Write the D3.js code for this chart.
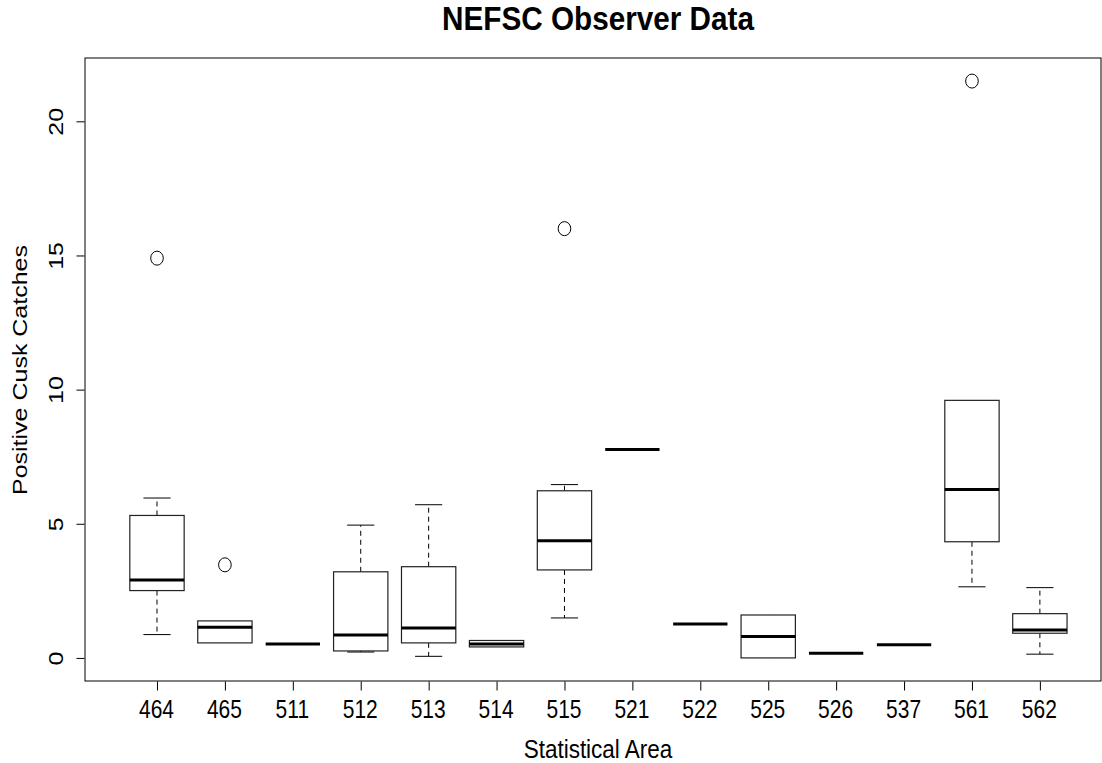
<!DOCTYPE html>
<html>
<head>
<meta charset="utf-8">
<script src="https://cdn.jsdelivr.net/npm/d3@7"></script>
<style>
  body { margin: 0; background: #fff; }
  text { font-family: "Liberation Sans", Arial, sans-serif; fill: #000; }
</style>
</head>
<body>
<script>
"use strict";

// Box statistics

const areas = ["464", "465", "511", "512", "513", "514", "515", "521", "522", "525", "526", "537", "561", "562"];
const whiskerLow = [0.87, 0.56, 0.52, 0.22, 0.06, 0.41, 1.49, 7.77, 1.26, 0.0, 0.17, 0.49, 2.65, 0.14];
const q1 = [2.51, 0.56, 0.52, 0.26, 0.56, 0.41, 3.28, 7.77, 1.26, 0.0, 0.17, 0.49, 4.33, 0.92];
const medians = [2.90, 1.14, 0.52, 0.85, 1.12, 0.52, 4.37, 7.77, 1.26, 0.80, 0.17, 0.49, 6.28, 1.04];
const q3 = [5.31, 1.38, 0.52, 3.21, 3.40, 0.65, 6.23, 7.77, 1.26, 1.60, 0.17, 0.49, 9.60, 1.65];
const whiskerHigh = [5.96, 1.38, 0.52, 4.95, 5.71, 0.65, 6.46, 7.77, 1.26, 1.60, 0.17, 0.49, 9.60, 2.62];
const outliers = [[14.9], [3.47], [], [], [], [], [16.0], [], [], [], [], [], [21.5], []];
const yTicks = [0, 5, 10, 15, 20];

// Layout

const width = 1102;
const height = 763;
const plotLeft = 85;
const plotRight = 1101;
const plotTop = 58;
const plotBottom = 681;
const boxWidth = 0.8;
const squeeze = 0.84;   // text in the picture is narrowed horizontally

const boxes = areas.map((a, i) => ({
    area: a, i,
    lo: whiskerLow[i], q1: q1[i], med: medians[i], q3: q3[i], hi: whiskerHigh[i],
    out: outliers[i]
}));

const svg = d3.select("body").append("svg")
    .attr("width", width)
    .attr("height", height);

const x = d3.scaleLinear().domain([-0.06, 14.9]).range([plotLeft, plotRight]);
const y = d3.scaleLinear().domain([-0.86, 22.36]).range([plotBottom, plotTop]);
const step = x(1) - x(0);

// Frame
svg.append("rect")
    .attr("x", plotLeft).attr("y", plotTop)
    .attr("width", plotRight - plotLeft).attr("height", plotBottom - plotTop)
    .attr("fill", "none").attr("stroke", "#000").attr("stroke-width", 1);

// Axes
const xAxis = d3.axisBottom(x)
    .tickValues(d3.range(1, areas.length + 1))
    .tickFormat(d => areas[d - 1])
    .tickSize(9);

const gx = svg.append("g")
    .attr("transform", `translate(0,${plotBottom + 0.5})`)
    .call(xAxis);
gx.select(".domain").remove();
gx.selectAll("text")
    .attr("font-size", 25)
    .attr("font-family", "Liberation Sans, Arial, sans-serif")
    .attr("y", null).attr("dy", null)
    .attr("transform", `translate(-1,36.5) scale(${squeeze},1)`);

const yAxis = d3.axisLeft(y).tickValues(yTicks).tickSize(8);
const gy = svg.append("g")
    .attr("transform", `translate(${plotLeft - 0.5},0)`)
    .call(yAxis);
gy.select(".domain").remove();
gy.selectAll("text")
    .attr("font-size", 25)
    .attr("font-family", "Liberation Sans, Arial, sans-serif")
    .attr("text-anchor", "middle")
    .attr("x", null).attr("dy", null)
    .attr("transform", `translate(-21.5,0) scale(${squeeze},1) rotate(-90)`);

// Boxes
const g = svg.append("g")
    .selectAll("g")
    .data(boxes)
    .join("g");

const half = step * boxWidth / 2;
const cap = half / 2;

// whiskers
g.append("line")
    .attr("x1", d => x(d.i + 1)).attr("x2", d => x(d.i + 1))
    .attr("y1", d => y(d.q3)).attr("y2", d => y(d.hi))
    .attr("stroke", "#000").attr("stroke-dasharray", "5,4");
g.append("line")
    .attr("x1", d => x(d.i + 1)).attr("x2", d => x(d.i + 1))
    .attr("y1", d => y(d.q1)).attr("y2", d => y(d.lo))
    .attr("stroke", "#000").attr("stroke-dasharray", "5,4");
g.filter(d => d.hi > d.q3).append("line")
    .attr("x1", d => x(d.i + 1) - cap).attr("x2", d => x(d.i + 1) + cap)
    .attr("y1", d => y(d.hi)).attr("y2", d => y(d.hi))
    .attr("stroke", "#000");
g.filter(d => d.lo < d.q1).append("line")
    .attr("x1", d => x(d.i + 1) - cap).attr("x2", d => x(d.i + 1) + cap)
    .attr("y1", d => y(d.lo)).attr("y2", d => y(d.lo))
    .attr("stroke", "#000");

// box body
g.append("rect")
    .attr("x", d => x(d.i + 1) - half)
    .attr("width", half * 2)
    .attr("y", d => y(d.q3))
    .attr("height", d => y(d.q1) - y(d.q3))
    .attr("fill", "#fff").attr("stroke", "#222").attr("stroke-width", 1.2);

// median
g.append("line")
    .attr("x1", d => x(d.i + 1) - half).attr("x2", d => x(d.i + 1) + half)
    .attr("y1", d => y(d.med)).attr("y2", d => y(d.med))
    .attr("stroke", "#000").attr("stroke-width", 3);

// outliers
g.selectAll("ellipse")
    .data(d => d.out.map(v => ({ i: d.i, v })))
    .join("ellipse")
    .attr("cx", d => x(d.i + 1))
    .attr("cy", d => y(d.v))
    .attr("rx", 6.3).attr("ry", 7)
    .attr("fill", "none").attr("stroke", "#000").attr("stroke-width", 1);

// Titles
svg.append("text")
    .attr("transform", `translate(598,30) scale(0.9,1)`)
    .attr("text-anchor", "middle")
    .attr("font-size", 33).attr("font-weight", "bold")
    .text("NEFSC Observer Data");

svg.append("text")
    .attr("transform", `translate(598,758) scale(0.9,1)`)
    .attr("text-anchor", "middle")
    .attr("font-size", 25)
    .text("Statistical Area");

svg.append("text")
    .attr("transform", `translate(27,370) scale(${squeeze},1) rotate(-90)`)
    .attr("text-anchor", "middle")
    .attr("font-size", 25)
    .text("Positive Cusk Catches");
</script>
</body>
</html>
